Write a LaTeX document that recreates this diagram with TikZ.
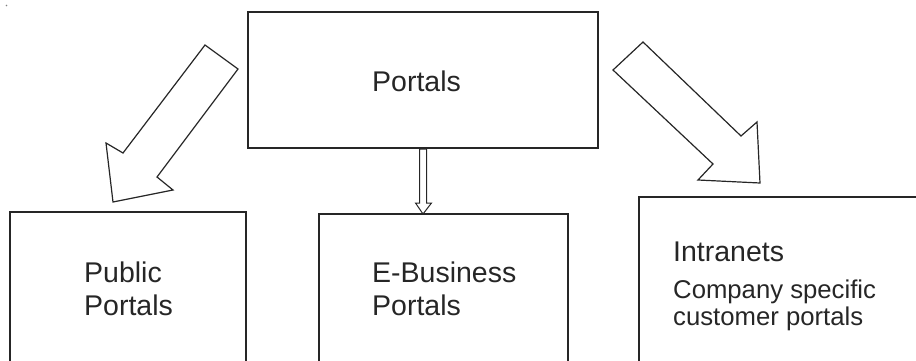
\documentclass[tikz,border=0pt]{standalone}
\usepackage{fontspec}
\setmainfont{Liberation Sans}
\begin{document}
\begin{tikzpicture}[x=1pt,y=-1pt,
  boxstyle/.style={draw=black!85, line width=1.7pt, fill=none},
  blockarrow/.style={draw=black!85, line width=1.2pt, line join=miter, fill=white},
  bigtext/.style={inner sep=0pt, anchor=base west, font=\fontsize{28.5}{33}\selectfont, text=black!85},
  smalltext/.style={inner sep=0pt, anchor=base west, font=\fontsize{25.7}{30}\selectfont, text=black!85}]
\useasboundingbox (0,0) rectangle (916,361);
\clip (0,0) rectangle (916,361);
\fill[black!50] (6.5,5.5) circle (0.9);
% boxes
\draw[boxstyle] (248,12) rectangle (598,148);
\draw[boxstyle] (10,212) rectangle (246,420);
\draw[boxstyle] (319,214) rectangle (568,420);
\draw[boxstyle] (639,197) rectangle (960,420);
% texts
\node[bigtext] (portals) at (372,92) {Portals};
\node[bigtext] (pub1) at (84,282) {Public};
\node[bigtext] (pub2) at (84,315) {Portals};
\node[bigtext] (eb1) at (372,282) {E-Business};
\node[bigtext] (eb2) at (372,315) {Portals};
\node[bigtext] (intra) at (673,261) {Intranets};
\node[smalltext] (intra2) at (673,298) {Company specific};
\node[smalltext] (intra3) at (673,325) {customer portals};
% left block arrow
\draw[blockarrow] (205,45) -- (238,69) -- (157,177) -- (173,190) -- (113,202) -- (106,143) -- (123,153) -- cycle;
% right block arrow
\draw[blockarrow] (643,42) -- (741,136) -- (757,122) -- (760,183) -- (698,180) -- (713,164) -- (613,70) -- cycle;
% middle arrow
\draw[blockarrow, line width=1pt] (419.5,149) -- (426.5,149) -- (426.5,203) -- (431.5,203) -- (423,214) -- (415.5,203) -- (419.5,203) -- cycle;
\end{tikzpicture}
\end{document}
